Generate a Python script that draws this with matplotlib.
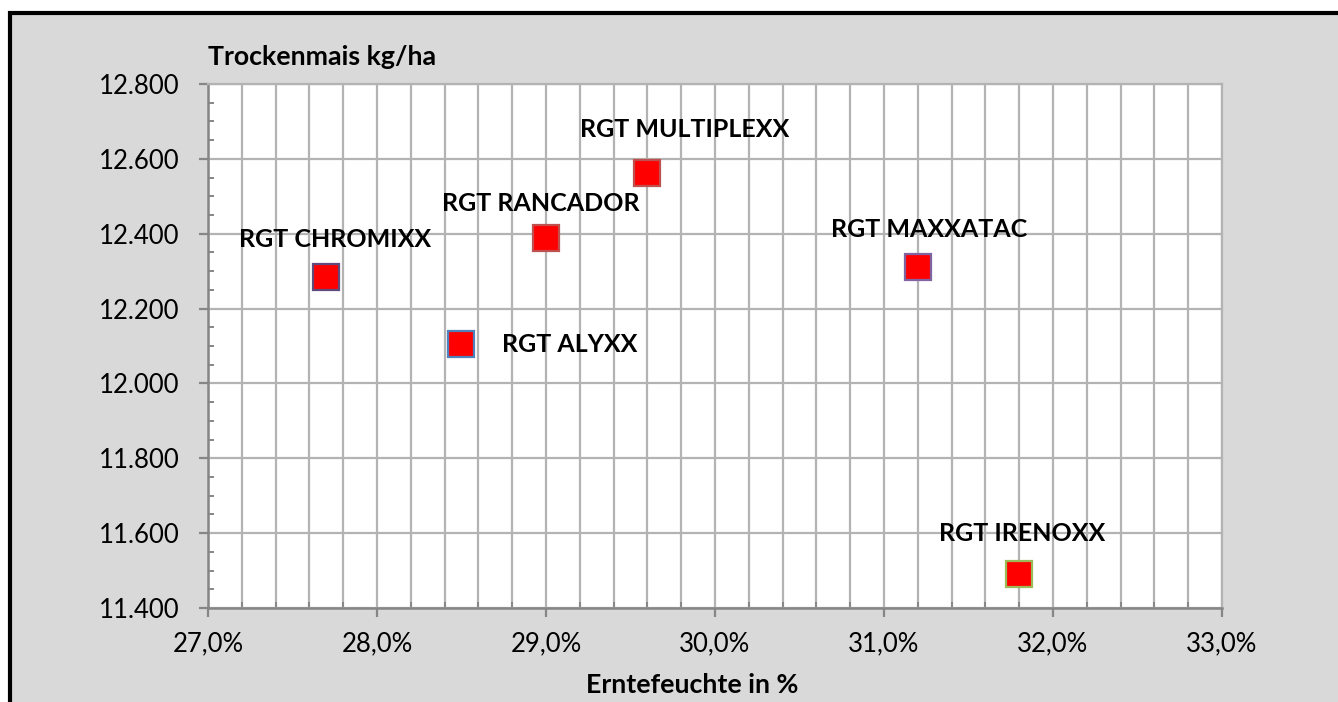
import matplotlib
matplotlib.use("Agg")
import matplotlib.pyplot as plt
from matplotlib.ticker import MultipleLocator, FuncFormatter
from matplotlib.patches import Rectangle

# Data
sorten = ["RGT CHROMIXX", "RGT ALYXX", "RGT RANCADOR", "RGT MULTIPLEXX", "RGT MAXXATAC", "RGT IRENOXX"]
feuchte = [27.7, 28.5, 29.0, 29.6, 31.2, 31.8]          # Erntefeuchte in %
ertrag = [12285, 12105, 12388, 12563, 12311, 11492]      # Trockenmais kg/ha

# label placement (offset in points from the marker) and marker edge colours
label_offsets = [(6, 27), (29, 0), (-4, 25), (27, 31), (8, 27), (2, 29)]
label_ha = ["center", "left", "center", "center", "center", "center"]
edge_colors = ["#604A7B", "#4F81BD", "#C0504D", "#C0504D", "#8064A2", "#9BBB59"]

plt.rcParams['font.family'] = ['Lato', 'DejaVu Sans']

fig = plt.figure(figsize=(13.38, 7.02), dpi=100)
fig.patch.set_facecolor("white")
# grey chart area with black frame (only top/left visible)
frame = Rectangle((9.5 / 1338, -0.1), 1.2, (702 - 13) / 702 + 0.1,
                  transform=fig.transFigure, facecolor="#D9D9D9",
                  edgecolor="black", linewidth=3, zorder=-5)
fig.patches.append(frame)

ax = fig.add_axes([208 / 1338, 94 / 702, 1014 / 1338, 524 / 702])
ax.set_zorder(1)
ax.set_facecolor("white")

grid_col = "#B3B3B3"
axis_col = "#868686"

for x, y, c in zip(feuchte, ertrag, edge_colors):
    ax.plot(x, y, marker="s", markersize=18.5, markerfacecolor="#FF0000",
            markeredgecolor=c, markeredgewidth=1.6, linestyle="none", zorder=3)

for name, x, y, off, ha in zip(sorten, feuchte, ertrag, label_offsets, label_ha):
    ax.annotate(name, (x, y), xytext=off, textcoords="offset points",
                ha=ha, va="center", fontsize=18, fontweight="bold", zorder=4)

ax.set_xlim(27, 33)
ax.set_ylim(11400, 12800)
ax.xaxis.set_major_locator(MultipleLocator(1))
ax.xaxis.set_minor_locator(MultipleLocator(0.2))
ax.yaxis.set_major_locator(MultipleLocator(200))
ax.yaxis.set_minor_locator(MultipleLocator(50))

ax.xaxis.set_major_formatter(FuncFormatter(lambda v, p: f"{v:.1f}%".replace(".", ",")))
ax.yaxis.set_major_formatter(FuncFormatter(lambda v, p: f"{v:,.0f}".replace(",", ".")))

ax.grid(True, axis="x", which="both", color=grid_col, linewidth=1.6)
ax.grid(True, axis="y", which="major", color=grid_col, linewidth=1.6)
ax.set_axisbelow(True)

for s in ["left", "bottom"]:
    ax.spines[s].set_color(axis_col)
    ax.spines[s].set_linewidth(1.8)
for s in ["top", "right"]:
    ax.spines[s].set_color(grid_col)
    ax.spines[s].set_linewidth(1.6)

ax.tick_params(axis="both", which="major", direction="out", length=6.5, width=1.6,
               color=axis_col, labelsize=18.5, pad=10)
ax.tick_params(axis="y", which="major", pad=14)
ax.tick_params(axis="both", which="minor", direction="in", length=4.5, width=1.4, color=axis_col)

fig.text(208 / 1338, 1 - 57 / 702, "Trockenmais kg/ha", ha="left", va="center",
         fontsize=19.3, fontweight="bold")
fig.text(692 / 1338, 1 - 685 / 702, "Erntefeuchte in %", ha="center", va="center",
         fontsize=19.3, fontweight="bold")

fig.savefig("out.png", dpi=100)
